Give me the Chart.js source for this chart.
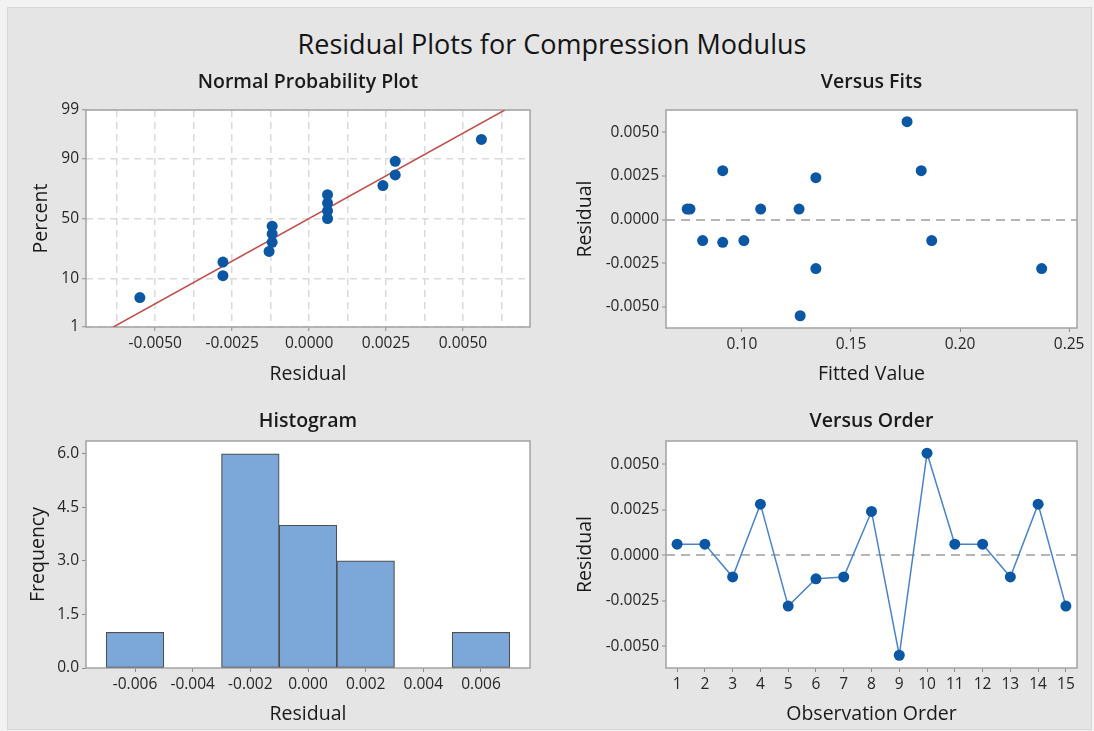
<!DOCTYPE html>
<html>
<head>
<meta charset="utf-8">
<title>Residual Plots for Compression Modulus</title>
<script src="https://cdn.jsdelivr.net/npm/chart.js@4.4.0/dist/chart.umd.min.js"></script>
<style>
  html, body { margin: 0; padding: 0; }
  body { width: 1094px; height: 731px; background: #f2f2f2; position: relative; overflow: hidden; font-family: 'Open Sans', sans-serif; }
  #panel { position: absolute; left: 7px; top: 7px; width: 1083px; height: 721px; background: #e5e5e5; border: 1px solid #d6d6d6; }
  #mainTitle { position: absolute; left: 52px; top: 26px; width: 1000px; text-align: center; font-size: 27px; font-weight: 500; line-height: 36px; color: #141414; }
  canvas { position: absolute; }
</style>
</head>
<body>
<div id="panel"></div>
<div id="mainTitle">Residual Plots for Compression Modulus</div>
<canvas id="probChart" width="518" height="319" style="left:28px; top:68px;"></canvas>
<canvas id="fitsChart" width="521" height="319" style="left:572px; top:68px;"></canvas>
<canvas id="histChart" width="521" height="320" style="left:25px; top:407px;"></canvas>
<canvas id="orderChart" width="521" height="320" style="left:572px; top:407px;"></canvas>
<script>
// ---------- data ----------
const observationOrder = [1, 2, 3, 4, 5, 6, 7, 8, 9, 10, 11, 12, 13, 14, 15];
const residuals = [0.0006, 0.0006, -0.0012, 0.0028, -0.0028, -0.0013, -0.0012, 0.0024, -0.0055, 0.0056, 0.0006, 0.0006, -0.0012, 0.0028, -0.0028];
const fittedValues = [0.0749, 0.0762, 0.0820, 0.0912, 0.1339, 0.0912, 0.1009, 0.1339, 0.1267, 0.1757, 0.1086, 0.1262, 0.1870, 0.1822, 0.2374];

// normal probability plot
const probResiduals = [-0.0055, -0.0028, -0.0028, -0.0013, -0.0012, -0.0012, -0.0012, 0.0006, 0.0006, 0.0006, 0.0006, 0.0024, 0.0028, 0.0028, 0.0056];
const probPercents = [4.5, 11.0, 17.5, 24.0, 30.5, 37.0, 43.5, 50.0, 56.5, 63.0, 69.5, 76.0, 82.5, 89.0, 95.5];
const fitLineResidual = [-0.00636, 0.00636];
const fitLinePercent = [1, 99];
const percentTicks = [1, 10, 50, 90, 99];

// histogram
const binCenters = [-0.006, -0.004, -0.002, 0.000, 0.002, 0.004, 0.006];
const binCounts = [1, 0, 6, 4, 3, 0, 1];

// ---------- style ----------
const BLUE = '#0b57a4';
const LINE_BLUE = '#4a83c4';
const RED = '#c0504d';
const BAR_FILL = '#7ba7d9';
const BAR_EDGE = '#505050';
const GRID = '#dadada';
const ZERO_LINE = '#b5b5b5';
const TICK_MARK = '#8c8c8c';

Chart.defaults.font.family = "'Open Sans', sans-serif";
Chart.defaults.font.size = 15.5;
Chart.defaults.color = '#262626';

// inverse of the standard normal CDF (Acklam's approximation)
function probit(p) {
  const a = [-39.69683028665376, 220.9460984245205, -275.9285104469687, 138.3577518672690, -30.66479806614716, 2.506628274631000];
  const b = [-54.47609879822406, 161.5858368580409, -155.6989798598866, 66.80131188771972, -13.28068155288572];
  const c = [-0.007784894002430293, -0.3223964580411365, -2.400758277161838, -2.549732539343734, 4.374664141464968, 2.938163982698783];
  const d = [0.007784695709041462, 0.3224671290700398, 2.445134137142996, 3.754408661907416];
  const lo = 0.02425, hi = 1 - lo;
  let q, r;
  if (p < lo) {
    q = Math.sqrt(-2 * Math.log(p));
    return (((((c[0] * q + c[1]) * q + c[2]) * q + c[3]) * q + c[4]) * q + c[5]) / ((((d[0] * q + d[1]) * q + d[2]) * q + d[3]) * q + 1);
  }
  if (p > hi) {
    q = Math.sqrt(-2 * Math.log(1 - p));
    return -(((((c[0] * q + c[1]) * q + c[2]) * q + c[3]) * q + c[4]) * q + c[5]) / ((((d[0] * q + d[1]) * q + d[2]) * q + d[3]) * q + 1);
  }
  q = p - 0.5;
  r = q * q;
  return (((((a[0] * r + a[1]) * r + a[2]) * r + a[3]) * r + a[4]) * r + a[5]) * q / (((((b[0] * r + b[1]) * r + b[2]) * r + b[3]) * r + b[4]) * r + 1);
}

// Percent axis on a normal-probability scale
class ProbitScale extends Chart.LinearScale {
  static id = 'probit';
  static defaults = {};
  determineDataLimits() {
    this.min = probit(this.options.min / 100);
    this.max = probit(this.options.max / 100);
  }
  buildTicks() {
    return percentTicks.map(v => ({ value: v }));
  }
  getPixelForValue(value) {
    return super.getPixelForValue(probit(value / 100));
  }
}
Chart.register(ProbitScale);

// white plot area + grey frame
const plotFrame = {
  id: 'plotFrame',
  beforeDraw(chart) {
    const { ctx, chartArea: a } = chart;
    ctx.save();
    ctx.fillStyle = '#fff';
    ctx.fillRect(a.left, a.top, a.width, a.height);
    ctx.restore();
  },
  beforeDatasetsDraw(chart) {
    const { ctx, chartArea: a } = chart;
    ctx.save();
    ctx.strokeStyle = '#a3a3a3';
    ctx.lineWidth = 1.5;
    ctx.strokeRect(a.left, a.top, a.width, a.height);
    ctx.restore();
  }
};
Chart.register(plotFrame);

function isMultiple(v, step) {
  const k = v / step;
  return Math.abs(k - Math.round(k)) < 1e-6;
}

function panelTitle(text, bottom) {
  return {
    display: true, text, fullSize: false, color: '#1a1a1a',
    font: { size: 19.5, weight: '600', lineHeight: '20px' },
    padding: { top: 4, bottom }
  };
}

function axisTitle(text) {
  return { display: true, text, color: '#1a1a1a', font: { size: 19.5, lineHeight: '22px' }, padding: { top: 2, bottom: 2 } };
}

function baseOptions(title, titleGap) {
  return {
    responsive: false,
    animation: false,
    layout: { padding: { right: 16 } },
    plugins: {
      legend: { display: false },
      tooltip: { enabled: false },
      title: panelTitle(title, titleGap)
    }
  };
}

// y axis for the two "versus" panels
function residualAxis(width) {
  return {
    type: 'linear', min: -0.0062, max: 0.00627,
    afterFit: s => { s.width = width; },
    ticks: { stepSize: 0.0025, includeBounds: false, autoSkip: false, padding: 3, callback: v => v.toFixed(4) },
    grid: {
      color: ctx => (ctx.tick && Math.abs(ctx.tick.value) < 1e-9 ? ZERO_LINE : 'transparent'),
      lineWidth: 2, tickColor: TICK_MARK, tickWidth: 1, tickLength: 4
    },
    border: { display: false, dash: [9, 6] },
    title: axisTitle('Residual')
  };
}

// ---------- Normal Probability Plot ----------
new Chart(document.getElementById('probChart'), {
  type: 'scatter',
  data: {
    datasets: [
      {
        data: probResiduals.map((r, i) => ({ x: r, y: probPercents[i] })),
        backgroundColor: BLUE, borderColor: BLUE, pointRadius: 5.5, borderWidth: 0
      },
      {
        type: 'line',
        data: fitLineResidual.map((r, i) => ({ x: r, y: fitLinePercent[i] })),
        borderColor: RED, borderWidth: 1.5, pointRadius: 0, fill: false
      }
    ]
  },
  options: {
    ...baseOptions('Normal Probability Plot', 18),
    scales: {
      x: {
        type: 'linear', min: -0.00725, max: 0.00718,
        afterFit: s => { s.height = 60; },
        ticks: {
          stepSize: 0.00125, includeBounds: false, autoSkip: false, maxRotation: 0, padding: 3,
          callback: v => (isMultiple(v, 0.0025) ? v.toFixed(4) : '')
        },
        grid: {
          color: GRID, lineWidth: 1.5, tickWidth: 1, tickLength: 4,
          tickColor: ctx => (ctx.tick && isMultiple(ctx.tick.value, 0.0025) ? TICK_MARK : 'transparent')
        },
        border: { display: false, dash: [7, 5] },
        title: axisTitle('Residual')
      },
      y: {
        type: 'probit', min: 1, max: 99,
        afterFit: s => { s.width = 58; },
        ticks: { padding: 3, callback: v => String(v) },
        grid: { color: GRID, lineWidth: 1.5, tickColor: TICK_MARK, tickWidth: 1, tickLength: 4 },
        border: { display: false, dash: [7, 5] },
        title: axisTitle('Percent')
      }
    }
  }
});

// ---------- Versus Fits ----------
new Chart(document.getElementById('fitsChart'), {
  type: 'scatter',
  data: {
    datasets: [{
      data: fittedValues.map((f, i) => ({ x: f, y: residuals[i] })),
      backgroundColor: BLUE, borderColor: BLUE, pointRadius: 5.5, borderWidth: 0
    }]
  },
  options: {
    ...baseOptions('Versus Fits', 18),
    scales: {
      x: {
        type: 'linear', min: 0.0652, max: 0.2536,
        afterFit: s => { s.height = 59; },
        ticks: { stepSize: 0.05, includeBounds: false, autoSkip: false, maxRotation: 0, padding: 3, callback: v => v.toFixed(2) },
        grid: { drawOnChartArea: false, tickColor: TICK_MARK, tickLength: 4 },
        border: { display: false },
        title: axisTitle('Fitted Value')
      },
      y: residualAxis(94)
    }
  }
});

// ---------- Histogram ----------
new Chart(document.getElementById('histChart'), {
  type: 'bar',
  data: {
    datasets: [{
      data: binCenters.map((c, i) => ({ x: c, y: binCounts[i] })),
      backgroundColor: BAR_FILL, borderColor: BAR_EDGE, borderWidth: 1.2,
      borderSkipped: false, barPercentage: 1, categoryPercentage: 1
    }]
  },
  options: {
    ...baseOptions('Histogram', 10),
    scales: {
      x: {
        type: 'linear', min: -0.0077, max: 0.0077, offset: false,
        afterFit: s => { s.height = 59; },
        ticks: { stepSize: 0.002, includeBounds: false, autoSkip: false, maxRotation: 0, padding: 3, callback: v => v.toFixed(3) },
        grid: { offset: false, drawOnChartArea: false, tickColor: TICK_MARK, tickLength: 4 },
        border: { display: false },
        title: axisTitle('Residual')
      },
      y: {
        type: 'linear', min: 0, max: 6.36,
        afterFit: s => { s.width = 61; },
        ticks: { stepSize: 1.5, includeBounds: false, autoSkip: false, padding: 3, callback: v => v.toFixed(1) },
        grid: { drawOnChartArea: false, tickColor: TICK_MARK, tickLength: 4 },
        border: { display: false },
        title: axisTitle('Frequency')
      }
    }
  }
});

// ---------- Versus Order ----------
new Chart(document.getElementById('orderChart'), {
  type: 'line',
  data: {
    datasets: [{
      data: observationOrder.map((o, i) => ({ x: o, y: residuals[i] })),
      borderColor: LINE_BLUE, borderWidth: 1.5,
      pointBackgroundColor: BLUE, pointBorderColor: BLUE, pointRadius: 5.5, pointBorderWidth: 0,
      tension: 0, fill: false
    }]
  },
  options: {
    ...baseOptions('Versus Order', 10),
    scales: {
      x: {
        type: 'linear', min: 0.6, max: 15.4,
        afterFit: s => { s.height = 59; },
        ticks: { stepSize: 1, includeBounds: false, autoSkip: false, maxRotation: 0, padding: 3, callback: v => String(v) },
        grid: { drawOnChartArea: false, tickColor: TICK_MARK, tickLength: 4 },
        border: { display: false },
        title: axisTitle('Observation Order')
      },
      y: residualAxis(94)
    }
  }
});
</script>
</body>
</html>
